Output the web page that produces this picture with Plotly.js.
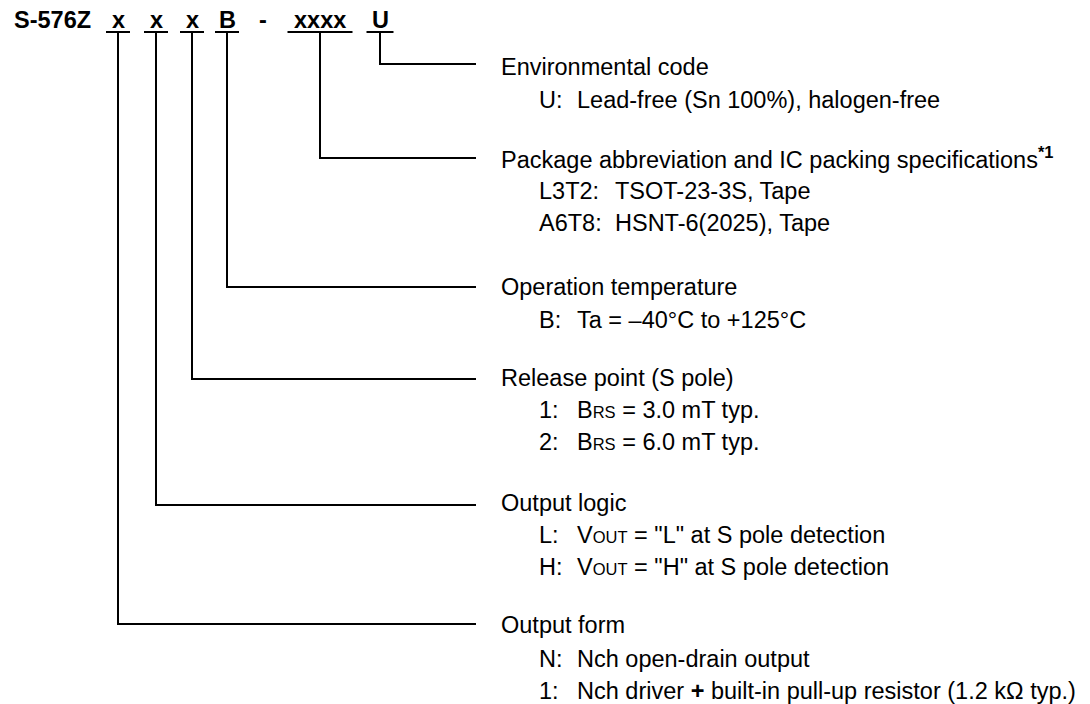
<!DOCTYPE html>
<html>
<head>
<meta charset="utf-8">
<script src="https://cdn.plot.ly/plotly-3.0.1.min.js"></script>
<style>html,body{margin:0;padding:0;background:#fff;}#chart{width:1090px;height:704px;}</style>
</head>
<body>
<div id="chart"></div>
<script>
// ---- content (data) ----
const codeTokens = ['S-576Z', 'x', 'x', 'x', 'B', '-', 'xxxx', 'U'];
const fieldTitles = [
  'Environmental code',
  'Package abbreviation and IC packing specifications<sup><b>*1</b></sup>',
  'Operation temperature',
  'Release point (S pole)',
  'Output logic',
  'Output form'
];
const fieldTokenIndex = [7, 6, 4, 3, 2, 1];
const optCodes = [
  ['U:'],
  ['L3T2:', 'A6T8:'],
  ['B:'],
  ['1:', '2:'],
  ['L:', 'H:'],
  ['N:', '1:']
];
const SUBS = '<span style="font-size:16.5px">';
const optTexts = [
  ['Lead-free (Sn 100%), halogen-free'],
  ['TSOT-23-3S, Tape', 'HSNT-6(2025), Tape'],
  ['Ta = \u201340\u00B0C to +125\u00B0C'],
  ['B' + SUBS + 'RS</span> = 3.0 mT typ.', 'B' + SUBS + 'RS</span> = 6.0 mT typ.'],
  ['V' + SUBS + 'OUT</span> = "L" at S pole detection', 'V' + SUBS + 'OUT</span> = "H" at S pole detection'],
  ['Nch open-drain output', 'Nch driver <b>+</b> built-in pull-up resistor (1.2 k\u03A9 typ.)']
];

// ---- layout geometry (positions / styles) ----
const FONT = 'Liberation Sans, Arial, sans-serif';
const FS = 23.5;
const tokenCenterX = [12, 118, 156, 192, 227, 263, 320, 380];
const underlineHalf = [0, 12, 12, 12, 12, 0, 32.5, 13.5];
const TOKEN_Y = 20;
const UNDERLINE_Y = 32;
const fieldLineY = [64, 158, 287, 379, 505, 624];
const fieldTitleY = [67, 158, 287, 378, 503, 625];
const LINE_END_X = 476;
const TITLE_X = 499;
const CODE_X = 537;
const descX = [575, 613, 575, 575, 575, 575];
const subFirst = [33, 33, 33, 32, 32, 34];
const SUB_STEP = 32;

const traces = [];
const annotations = [];

// code tokens + underlines
codeTokens.forEach((t, i) => {
  annotations.push({
    x: tokenCenterX[i], y: TOKEN_Y, xref: 'x', yref: 'y',
    text: '<b>' + t + '</b>', showarrow: false,
    xanchor: i === 0 ? 'left' : 'center', yanchor: 'middle',
    font: {family: FONT, size: FS, color: '#000'}
  });
  if (underlineHalf[i] > 0) {
    traces.push({
      x: [tokenCenterX[i] - underlineHalf[i], tokenCenterX[i] + underlineHalf[i]],
      y: [UNDERLINE_Y, UNDERLINE_Y],
      mode: 'lines', line: {color: '#000', width: 2}, hoverinfo: 'skip', showlegend: false
    });
  }
});

// connectors and field texts
fieldTitles.forEach((title, f) => {
  const cx = tokenCenterX[fieldTokenIndex[f]];
  traces.push({
    x: [cx, cx, LINE_END_X],
    y: [UNDERLINE_Y, fieldLineY[f], fieldLineY[f]],
    mode: 'lines', line: {color: '#000', width: 2}, hoverinfo: 'skip', showlegend: false
  });
  annotations.push({
    x: TITLE_X, y: fieldTitleY[f], xref: 'x', yref: 'y', text: title, showarrow: false,
    xanchor: 'left', yanchor: 'middle', font: {family: FONT, size: FS, color: '#000'}
  });
  optCodes[f].forEach((c, k) => {
    const y = fieldTitleY[f] + subFirst[f] + k * SUB_STEP;
    annotations.push({
      x: CODE_X, y: y, xref: 'x', yref: 'y', text: c, showarrow: false,
      xanchor: 'left', yanchor: 'middle', font: {family: FONT, size: FS, color: '#000'}
    });
    annotations.push({
      x: descX[f], y: y, xref: 'x', yref: 'y', text: optTexts[f][k], showarrow: false,
      xanchor: 'left', yanchor: 'middle', font: {family: FONT, size: FS, color: '#000'}
    });
  });
});

const layout = {
  width: 1090, height: 704,
  margin: {l: 0, r: 0, t: 0, b: 0},
  paper_bgcolor: '#fff', plot_bgcolor: '#fff',
  xaxis: {range: [0, 1090], visible: false, fixedrange: true},
  yaxis: {range: [704, 0], visible: false, fixedrange: true},
  annotations: annotations,
  hovermode: false,
  showlegend: false
};

Plotly.newPlot('chart', traces, layout, {staticPlot: true, displayModeBar: false});
</script>
</body>
</html>
